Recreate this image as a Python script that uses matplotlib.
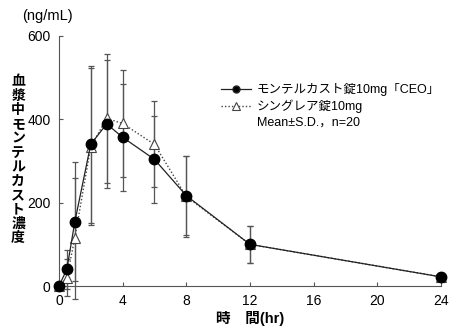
import numpy as np
import matplotlib
matplotlib.use("Agg")
import matplotlib.pyplot as plt
from matplotlib.lines import Line2D

plt.rcParams['font.family'] = ['Liberation Sans', 'Noto Sans CJK JP', 'DejaVu Sans']

# time points (hr)
hours = [0, 0.5, 1, 2, 3, 4, 6, 8, 12, 24]
# モンテルカスト錠10mg「CEO」
ceo_mean = [0, 40, 154, 340, 389, 357, 304, 217, 100, 22]
ceo_sd = [0, 46, 143, 188, 153, 128, 104, 95, 45, 10]
# シングレア錠10mg
sing_mean = [0, 20, 115, 334, 402, 390, 340, 215, 100, 22]
sing_sd = [0, 44, 145, 188, 155, 128, 103, 97, 44, 10]

xticks = [0, 4, 8, 12, 16, 20, 24]
yticks = [0, 200, 400, 600]

fig = plt.figure(figsize=(4.53, 3.33), dpi=100)
ax = fig.add_axes([0.130, 0.141, 0.8435, 0.751])

ax.errorbar(hours, sing_mean, yerr=sing_sd, fmt="none", ecolor="#555555",
            elinewidth=0.9, capsize=2, capthick=0.9, clip_on=False, zorder=2)
ax.errorbar(hours, ceo_mean, yerr=ceo_sd, fmt="none", ecolor="#555555",
            elinewidth=0.9, capsize=2, capthick=0.9, clip_on=False, zorder=2)
ax.plot(hours, sing_mean, linestyle=(0, (1, 1.5)), color="#444444", linewidth=1,
        marker="^", markersize=7.5, markerfacecolor="white",
        markeredgecolor="#444444", markeredgewidth=0.8, clip_on=False, zorder=3)
ax.plot(hours, ceo_mean, linestyle="-", color="#222222", linewidth=0.9,
        marker="o", markersize=7.5, markerfacecolor="black",
        markeredgecolor="black", clip_on=False, zorder=4)

ax.set_xlim(0, 24)
ax.set_ylim(0, 600)
ax.set_xticks(xticks)
ax.set_yticks(yticks)
ax.tick_params(direction="in", length=3, width=0.8, color="#555555",
               labelsize=10, pad=6)
for s in ["top", "right"]:
    ax.spines[s].set_visible(False)
for s in ["left", "bottom"]:
    ax.spines[s].set_color("#555555")
    ax.spines[s].set_linewidth(0.8)

handles = [
    Line2D([], [], color="#222222", linewidth=0.9, marker="o", markersize=5,
           markerfacecolor="black"),
    Line2D([], [], color="#444444", linewidth=1, linestyle=(0, (1, 1.5)),
           marker="^", markersize=6, markerfacecolor="white",
           markeredgecolor="#444444", markeredgewidth=0.8),
    Line2D([], [], linestyle="none", marker="none"),
]
leg = ax.legend(handles, ["モンテルカスト錠10mg「CEO」", "シングレア錠10mg",
                          "Mean±S.D.，n=20"],
                loc="upper left", bbox_to_anchor=(0.41, 0.83), frameon=False,
                fontsize=9, handlelength=2.4, handletextpad=0.5,
                labelspacing=0.25, borderaxespad=0)

fig.text(0.105, 0.952, "(ng/mL)", fontsize=10.5, ha="center", va="center")
fig.text(0.04, 0.52, "\n".join("血漿中モンテルカスト濃度"), fontsize=10,
         fontweight="bold", ha="center", va="center", linespacing=1.02)
ax.set_xlabel("時　間(hr)", fontsize=10.5, fontweight="bold", labelpad=2)

plt.savefig("out.png", dpi=100)
